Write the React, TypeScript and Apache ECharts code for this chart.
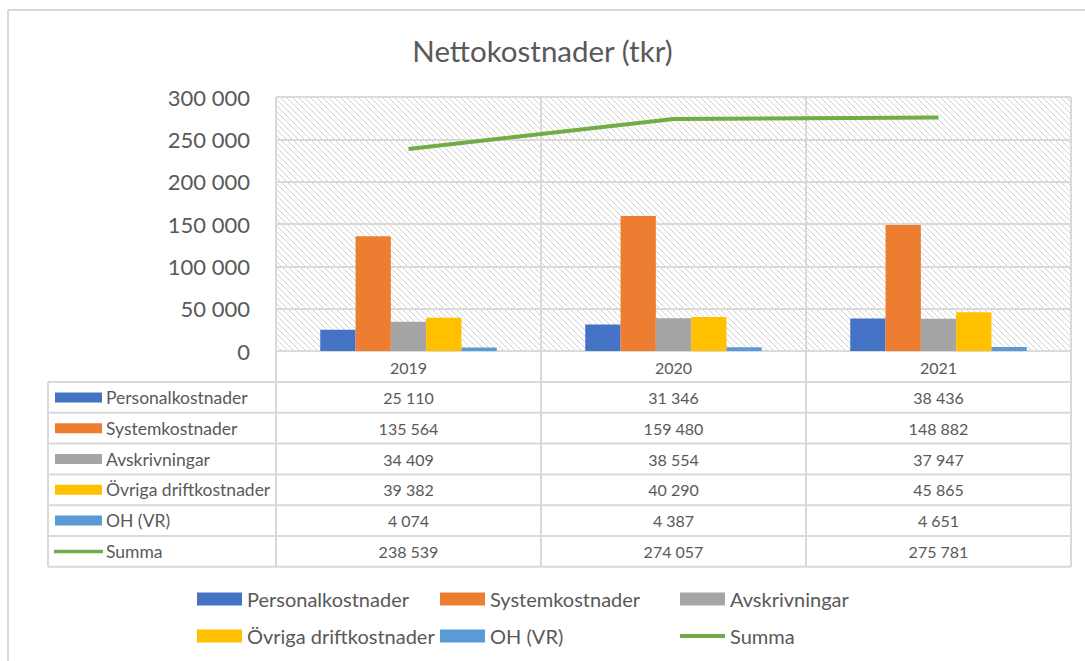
import React, { useEffect, useRef } from "react";
import * as echarts from "echarts";

const categories = ["2019", "2020", "2021"];
const seriesNames = [
  "Personalkostnader",
  "Systemkostnader",
  "Avskrivningar",
  "Övriga driftkostnader",
  "OH (VR)",
  "Summa",
];
const personal = [25110, 31346, 38436];
const system = [135564, 159480, 148882];
const avskrivningar = [34409, 38554, 37947];
const ovriga = [39382, 40290, 45865];
const oh = [4074, 4387, 4651];
const summa = [238539, 274057, 275781];
const yMin = 0;
const yMax = 300000;
const yInterval = 50000;

const colors = ["#4472C4", "#ED7D31", "#A5A5A5", "#FFC000", "#5B9BD5", "#70AD47"];
const FONT = "Lato, 'Noto Sans', sans-serif";
const TXT = "#595959";
const GRIDC = "#d9d9d9";

// layout
const GL = 276;
const GT = 97;
const GW = 795;
const GH = 254;
const TABLE_L = 48;
const TABLE_TOP = 382;
const ROW_H = 30.8;

const fmt = (n: number) => String(n).replace(/\B(?=(\d{3})+(?!\d))/g, " ");

function hatchPath(): string {
  const x0 = GL, x1 = GL + GW, y0 = GT, y1 = GT + GH;
  const s = 6;
  let d = "";
  for (let xk = x0 - GH; xk < x1; xk += s) {
    let sx = xk, sy = y0;
    let ex = xk + GH, ey = y1;
    if (sx < x0) { sy = y0 + (x0 - sx); sx = x0; }
    if (ex > x1) { ey = y1 - (ex - x1); ex = x1; }
    if (sy >= y1 || ex <= sx) continue;
    d += `M${sx.toFixed(1)} ${sy.toFixed(1)}L${ex.toFixed(1)} ${ey.toFixed(1)}`;
  }
  return d;
}

let registered = false;

export default function App() {
  const ref = useRef<HTMLDivElement>(null);
  useEffect(() => {
    if (!ref.current) return;
    if (!registered) {
      echarts.graphic.registerShape("hatch", echarts.graphic.extendPath(hatchPath(), {}) as any);
      registered = true;
    }
    const chart = echarts.init(ref.current, null, { renderer: "svg" });
    const data = [personal, system, avskrivningar, ovriga, oh, summa];
    const colW = GW / categories.length;

    const graphics: any[] = [];
    graphics.push({ type: "hatch", x: 0, y: 0, z: -1, silent: true, style: { fill: "none", stroke: "#d0d0d0", lineWidth: 1 } });
    graphics.push({ type: "line", shape: { x1: 8, y1: 10, x2: 1085, y2: 10 }, style: { stroke: GRIDC, lineWidth: 2 } });
    graphics.push({ type: "line", shape: { x1: 8, y1: 10, x2: 8, y2: 661 }, style: { stroke: GRIDC, lineWidth: 2 } });
    for (let i = 0; i <= categories.length; i++) {
      const x = GL + i * colW;
      graphics.push({ type: "line", z: 1, shape: { x1: x, y1: GT, x2: x, y2: TABLE_TOP + ROW_H * seriesNames.length }, style: { stroke: GRIDC, lineWidth: 2 } });
    }
    graphics.push({ type: "line", z: 1, shape: { x1: TABLE_L, y1: TABLE_TOP, x2: TABLE_L, y2: TABLE_TOP + ROW_H * seriesNames.length }, style: { stroke: GRIDC, lineWidth: 2 } });
    for (let r = 0; r <= seriesNames.length; r++) {
      const y = TABLE_TOP + r * ROW_H;
      graphics.push({ type: "line", z: 1, shape: { x1: TABLE_L, y1: y, x2: GL + GW, y2: y }, style: { stroke: GRIDC, lineWidth: 2 } });
    }
    seriesNames.forEach((name, r) => {
      const cy = TABLE_TOP + r * ROW_H + ROW_H / 2;
      if (r === seriesNames.length - 1) {
        graphics.push({ type: "line", shape: { x1: 54, y1: cy, x2: 103, y2: cy }, style: { stroke: colors[r], lineWidth: 3.5 } });
      } else {
        graphics.push({ type: "rect", shape: { x: 55, y: cy - 5, width: 47, height: 10 }, style: { fill: colors[r] } });
      }
      graphics.push({ type: "text", x: 106, y: cy, style: { text: name, fill: TXT, font: `17.5px ${FONT}`, textVerticalAlign: "middle", textAlign: "left" } });
      data[r].forEach((v, c) => {
        graphics.push({ type: "text", x: GL + colW * c + colW / 2, y: cy, style: { text: fmt(v), fill: TXT, font: `16px ${FONT}`, textAlign: "center", textVerticalAlign: "middle" } });
      });
    });

    const legendPos = [
      [197, 589], [440, 589], [680, 589],
      [197, 626], [440, 626], [680, 626],
    ];
    const legends = seriesNames.map((n, i) => ({
      data: [n],
      left: legendPos[i][0],
      top: legendPos[i][1],
      padding: 0,
      icon: "rect",
      itemWidth: 45,
      itemHeight: i < 5 ? 13 : 4,
      itemGap: 0,
      textStyle: { color: TXT, fontSize: 20, fontFamily: FONT },
    }));

    const series: any[] = seriesNames.slice(0, 5).map((n, i) => ({
      name: n,
      type: "bar",
      data: data[i],
      barGap: "0%",
      barCategoryGap: "33.4%",
      itemStyle: { color: colors[i] },
    }));
    series.push({
      name: "Summa",
      type: "line",
      data: summa,
      symbol: "none",
      lineStyle: { color: colors[5], width: 4 },
      itemStyle: { color: colors[5] },
      z: 3,
    });

    chart.setOption({
      animation: false,
      title: {
        text: "Nettokostnader (tkr)",
        left: "center",
        top: 30,
        textStyle: { color: TXT, fontSize: 29.5, fontWeight: "normal", fontFamily: FONT },
      },
      legend: legends,
      grid: { left: GL, top: GT, width: GW, height: GH, containLabel: false },
      xAxis: {
        type: "category",
        data: categories,
        axisLine: { show: true, lineStyle: { color: GRIDC, width: 2 } },
        axisTick: { show: false },
        axisLabel: { color: TXT, fontSize: 16, fontFamily: FONT, margin: 8 },
        splitLine: { show: false },
      },
      yAxis: {
        type: "value",
        min: yMin,
        max: yMax,
        interval: yInterval,
        axisLine: { show: false },
        axisTick: { show: false },
        axisLabel: { color: TXT, fontSize: 22, fontFamily: FONT, margin: 26, formatter: (v: number) => fmt(v) },
        splitLine: { show: true, lineStyle: { color: GRIDC, width: 2 } },
      },
      graphic: graphics,
      series,
    });
    return () => chart.dispose();
  }, []);
  return <div ref={ref} style={{ position: "fixed", left: 0, top: 0, width: 1085, height: 661, background: "#fff" }} />;
}
